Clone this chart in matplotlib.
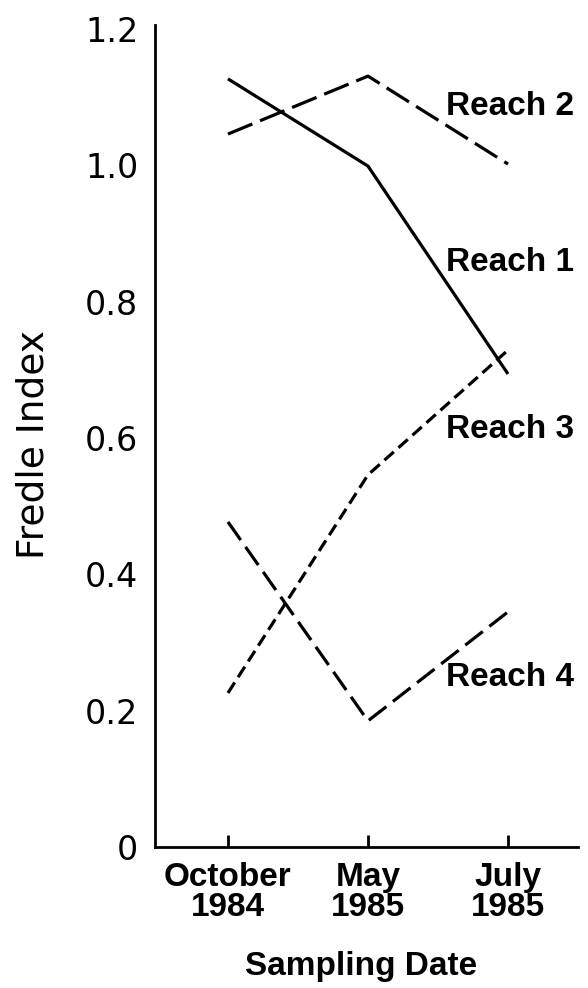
import matplotlib
matplotlib.use("Agg")
import matplotlib.pyplot as plt

# ---- data ----
dates = ["October\n1984", "May\n1985", "July\n1985"]
reach_names = ["Reach 1", "Reach 2", "Reach 3", "Reach 4"]
reach1 = [1.127, 0.999, 0.694]
reach2 = [1.046, 1.131, 1.002]
reach3 = [0.226, 0.546, 0.729]
reach4 = [0.477, 0.185, 0.345]
yticks = [0, 0.2, 0.4, 0.6, 0.8, 1.0, 1.2]
ytick_labels = ["0", "0.2", "0.4", "0.6", "0.8", "1.0", "1.2"]

plt.rcParams["lines.scale_dashes"] = False

fig = plt.figure(figsize=(5.88, 9.88), dpi=100)
ax = fig.add_axes([0.2636, 0.1427, 0.7194, 0.832])

x = list(range(len(dates)))
lw = 2.3
styles = {
    "Reach 1": "-",
    "Reach 2": (0, (19, 6)),
    "Reach 3": (0, (9, 4.5)),
    "Reach 4": (0, (16, 6)),
}
for name, vals in zip(reach_names, [reach1, reach2, reach3, reach4]):
    ax.plot(x, vals, color="black", lw=lw, linestyle=styles[name],
            solid_capstyle="butt", dash_capstyle="butt")

# series labels
label_pos = {"Reach 2": 1.086, "Reach 1": 0.858, "Reach 3": 0.612, "Reach 4": 0.249}
bold_font = dict(family="Liberation Sans", weight="bold", size=24)
for name in reach_names:
    ax.text(1.56, label_pos[name], name, ha="left", va="center", **bold_font)

ax.set_xlim(-0.521, 2.5)
ax.set_ylim(0, 1.206)

for s in ["top", "right"]:
    ax.spines[s].set_visible(False)
for s in ["left", "bottom"]:
    ax.spines[s].set_linewidth(2.0)

ax.set_xticks(x)
ax.set_xticklabels(dates, linespacing=0.95, **bold_font)
ax.tick_params(axis="x", direction="in", length=9, width=2.0, pad=11)

ax.set_yticks(yticks)
ax.set_yticklabels(ytick_labels, family="DejaVu Sans", size=24)
ax.tick_params(axis="y", length=0, pad=12)

ax.set_ylabel("Fredle Index", family="DejaVu Sans", size=27)
ax.yaxis.set_label_coords(-0.245, 0.49)
ax.set_xlabel("Sampling Date", **bold_font)
ax.xaxis.set_label_coords(0.487, -0.127)

fig.savefig("out.png", dpi=100)
